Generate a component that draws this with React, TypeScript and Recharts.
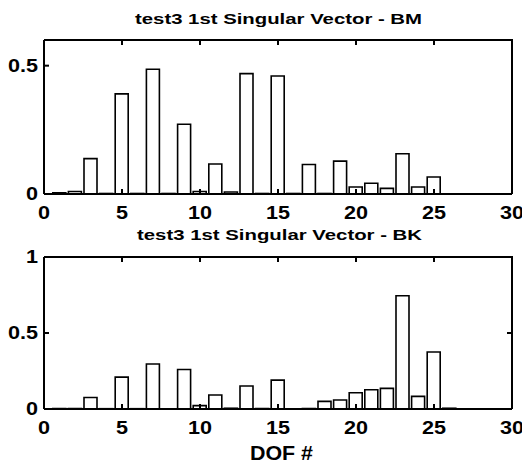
import React from 'react';
import { BarChart, Bar, XAxis, YAxis } from 'recharts';

const dof = [1, 2, 3, 4, 5, 6, 7, 8, 9, 10, 11, 12, 13, 14, 15, 16, 17, 18, 19, 20, 21, 22, 23, 24, 25, 26];

const bmValues = [
  0.005, 0.01, 0.138, 0.002, 0.39, 0.002, 0.486, 0.002, 0.272, 0.01, 0.117, 0.008, 0.469,
  0.002, 0.46, 0.002, 0.115, 0.002, 0.128, 0.027, 0.042, 0.022, 0.157, 0.027, 0.066, 0,
];

const bkValues = [
  0.003, 0.003, 0.076, 0.002, 0.21, 0.002, 0.296, 0.001, 0.26, 0.022, 0.092, 0.005, 0.151,
  0.003, 0.19, 0.001, 0.003, 0.05, 0.059, 0.107, 0.127, 0.136, 0.745, 0.083, 0.375, 0.005,
];

const xTicks = [0, 5, 10, 15, 20, 25, 30];
const bmTicks = [0, 0.5];
const bkTicks = [0, 0.5, 1];

const bmData = dof.map((d, i) => ({ dof: d, value: bmValues[i] }));
const bkData = dof.map((d, i) => ({ dof: d, value: bkValues[i] }));

const FONT = '"Liberation Sans", Arial, Helvetica, sans-serif';
const INK = '#000';
const X_MAX = 30;
const W = 522;
const PLOT_LEFT = 44;
const PLOT_RIGHT = 512;

const XTick = ({ x, y, payload }: any) => (
  <text
    transform={`translate(${x},${y}) scale(1.2,1)`}
    dy="0.71em"
    textAnchor="middle"
    fontSize={18}
    fontWeight="bold"
    fontFamily={FONT}
    fill={INK}
  >
    {payload.value}
  </text>
);

const YTick = ({ x, y, payload }: any) => (
  <text
    transform={`translate(${x},${y}) scale(1.2,1)`}
    dy="0.355em"
    textAnchor="end"
    fontSize={18}
    fontWeight="bold"
    fontFamily={FONT}
    fill={INK}
  >
    {payload.value}
  </text>
);

interface PanelProps {
  data: { dof: number; value: number }[];
  yMax: number;
  yTicks: number[];
  height: number;
  top: number;
  xAxisHeight: number;
}

const Panel = ({ data, yMax, yTicks, height, top, xAxisHeight }: PanelProps) => {
  const line = { stroke: INK, strokeWidth: 2 };
  return (
    <BarChart
      width={W}
      height={height}
      data={data}
      margin={{ top, right: W - PLOT_RIGHT, bottom: 0, left: 0 }}
    >
      <XAxis
        dataKey="dof"
        type="number"
        domain={[0, X_MAX]}
        ticks={xTicks}
        height={xAxisHeight}
        tickSize={-5}
        tickMargin={17}
        axisLine={line}
        tickLine={line}
        tick={<XTick />}
      />
      <YAxis
        type="number"
        domain={[0, yMax]}
        ticks={yTicks}
        width={PLOT_LEFT}
        tickSize={-5}
        tickMargin={11}
        axisLine={line}
        tickLine={line}
        tick={<YTick />}
      />
      <Bar
        dataKey="value"
        fill="#fff"
        stroke={INK}
        strokeWidth={1.6}
        barSize={13}
        isAnimationActive={false}
      />
    </BarChart>
  );
};

// top and right edges of a panel's box, with MATLAB-style inward ticks
const Frame = ({ top, bottom, yMax, yTicks }: { top: number; bottom: number; yMax: number; yTicks: number[] }) => {
  const sx = (v: number) => PLOT_LEFT + (v / X_MAX) * (PLOT_RIGHT - PLOT_LEFT);
  const sy = (v: number) => bottom - (v / yMax) * (bottom - top);
  return (
    <g stroke={INK} strokeWidth={2} fill="none">
      <polyline points={`${PLOT_LEFT},${top} ${PLOT_RIGHT},${top} ${PLOT_RIGHT},${bottom}`} />
      {xTicks.slice(1, -1).map((t) => (
        <line key={`x${t}`} x1={sx(t)} x2={sx(t)} y1={top} y2={top + 5} />
      ))}
      {yTicks.slice(1, -1).map((t) => (
        <line key={`y${t}`} x1={PLOT_RIGHT} x2={PLOT_RIGHT - 5} y1={sy(t)} y2={sy(t)} />
      ))}
    </g>
  );
};

export default function App() {
  return (
    <div
      style={{
        position: 'absolute',
        left: 0,
        top: 0,
        width: W,
        height: 465,
        background: '#fff',
        overflow: 'hidden',
      }}
    >
      <div style={{ position: 'absolute', left: 0, top: 0 }}>
        <Panel data={bmData} yMax={0.6} yTicks={bmTicks} height={230} top={40} xAxisHeight={36} />
      </div>
      <div style={{ position: 'absolute', left: 0, top: 230 }}>
        <Panel data={bkData} yMax={1} yTicks={bkTicks} height={235} top={27} xAxisHeight={56} />
      </div>
      <svg
        width={W}
        height={465}
        style={{ position: 'absolute', left: 0, top: 0, pointerEvents: 'none' }}
      >
        <Frame top={40} bottom={194} yMax={0.6} yTicks={bmTicks} />
        <Frame top={257} bottom={409} yMax={1} yTicks={bkTicks} />
        <text
          x={135}
          y={23.5}
          textLength={287}
          lengthAdjust="spacingAndGlyphs"
          fontSize={15}
          fontWeight="bold"
          fontFamily={FONT}
          fill={INK}
        >
          test3 1st Singular Vector - BM
        </text>
        <text
          x={137}
          y={240}
          textLength={285}
          lengthAdjust="spacingAndGlyphs"
          fontSize={15}
          fontWeight="bold"
          fontFamily={FONT}
          fill={INK}
        >
          test3 1st Singular Vector - BK
        </text>
        <text
          x={250}
          y={460}
          textLength={63}
          lengthAdjust="spacingAndGlyphs"
          fontSize={20}
          fontWeight="bold"
          fontFamily={FONT}
          fill={INK}
        >
          DOF #
        </text>
      </svg>
    </div>
  );
}
